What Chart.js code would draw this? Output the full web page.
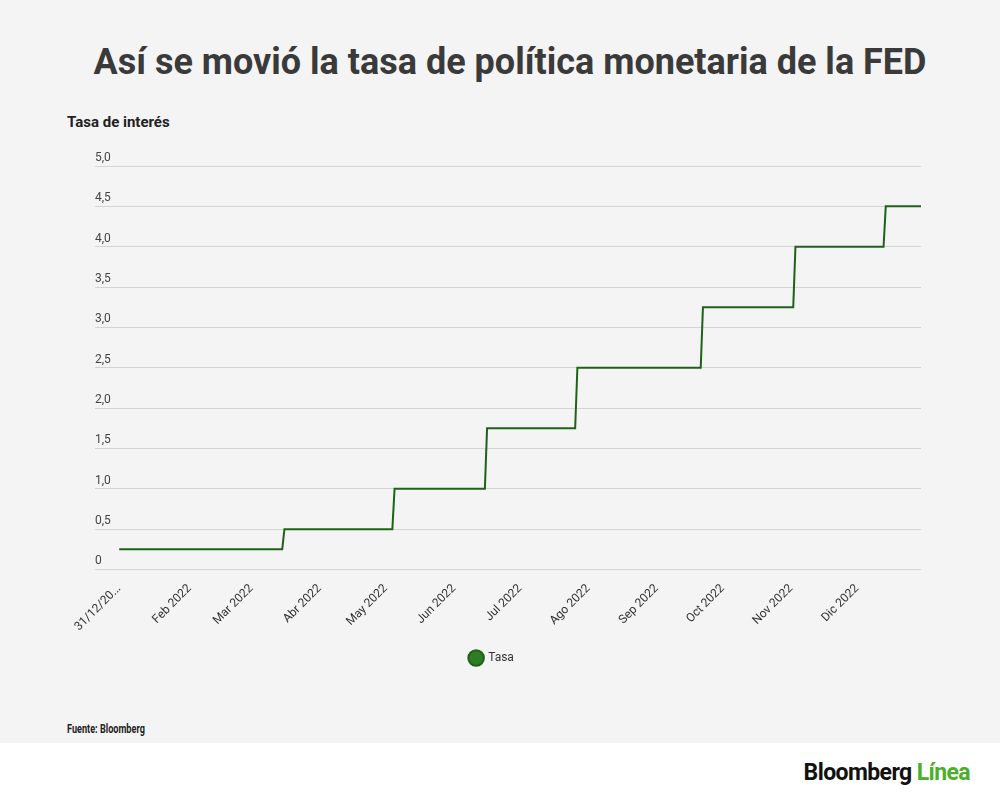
<!DOCTYPE html>
<html>
<head>
<meta charset="utf-8">
<script src="https://cdn.jsdelivr.net/npm/chart.js@4/dist/chart.umd.min.js"></script>
<style>
  html, body { margin: 0; padding: 0; }
  body { width: 1000px; height: 800px; position: relative; background: #ffffff; font-family: 'Roboto', sans-serif; overflow: hidden; }
  .panel { position: absolute; left: 0; top: 0; width: 1000px; height: 743px; background: #f4f4f4; }
  .title { position: absolute; left: 0; width: 1000px; top: 41px; text-align: center; padding-left: 20px; box-sizing: border-box;
           font-size: 36px; font-weight: 700; color: #3a3a3a; white-space: nowrap; }
  .ytitle { position: absolute; left: 67px; top: 113px; font-size: 15px; font-weight: 700; color: #222; }
  .source { position: absolute; left: 67px; top: 722px; font-size: 12px; font-weight: 700; color: #222;
            transform: scaleX(0.76); transform-origin: left top; }
  .logo { position: absolute; right: 30px; top: 759px; font-size: 23px; font-weight: 700; letter-spacing: -0.6px; color: #111; }
  .logo span { color: #4caf2a; }
  .wrap { position: absolute; left: 0; top: 0; width: 1000px; height: 800px; }
</style>
</head>
<body>
<div class="panel"></div>
<div class="title">Así se movió la tasa de política monetaria de la FED</div>
<div class="ytitle">Tasa de interés</div>
<div class="source">Fuente: Bloomberg</div>
<div class="logo">Bloomberg <span>Línea</span></div>
<div class="wrap"><canvas id="chart"></canvas></div>
<script>
// dates where the line bends, and the rate (%) at each one
const dates = ['2021-12-31', '2022-03-15', '2022-03-16', '2022-05-04', '2022-05-05',
  '2022-06-15', '2022-06-16', '2022-07-26', '2022-07-27', '2022-09-21', '2022-09-22',
  '2022-11-02', '2022-11-03', '2022-12-13', '2022-12-14', '2022-12-30'];
const rates = [0.25, 0.25, 0.5, 0.5, 1.0, 1.0, 1.75, 1.75, 2.5, 2.5, 3.25, 3.25, 4.0, 4.0, 4.5, 4.5];

const xTickDates = ['2021-12-31', '2022-02-01', '2022-03-01', '2022-04-01', '2022-05-01', '2022-06-01',
  '2022-07-01', '2022-08-01', '2022-09-01', '2022-10-01', '2022-11-01', '2022-12-01'];
const xTickLabels = ['31/12/20...', 'Feb 2022', 'Mar 2022', 'Abr 2022', 'May 2022', 'Jun 2022',
  'Jul 2022', 'Ago 2022', 'Sep 2022', 'Oct 2022', 'Nov 2022', 'Dic 2022'];
const yTickLabels = ['0', '0,5', '1,0', '1,5', '2,0', '2,5', '3,0', '3,5', '4,0', '4,5', '5,0'];

const t0 = Date.parse('2021-12-31');
const toDay = d => (Date.parse(d) - t0) / 86400000;

const ctx = document.getElementById('chart').getContext('2d');
new Chart(ctx, {
  type: 'line',
  data: {
    datasets: [{
      label: 'Tasa',
      data: dates.map((d, i) => ({ x: toDay(d), y: rates[i] })),
      borderColor: '#1f6117',
      backgroundColor: '#2e7d22',
      borderWidth: 2,
      pointRadius: 0,
      tension: 0
    }]
  },
  options: {
    responsive: true,
    maintainAspectRatio: false,
    animation: false,
    layout: { padding: { top: 166, left: 95, right: 79, bottom: 126 } },
    plugins: {
      legend: {
        position: 'bottom',
        labels: {
          usePointStyle: true,
          pointStyle: 'circle',
          boxHeight: 11,
          padding: 14,
          color: '#333',
          font: { family: 'Roboto', size: 12 }
        }
      },
      tooltip: { enabled: false }
    },
    scales: {
      x: {
        type: 'linear',
        min: -11,
        max: toDay('2022-12-30'),
        afterBuildTicks: scale => {
          scale.ticks = xTickDates.map(d => ({ value: toDay(d) }));
        },
        grid: { display: false },
        border: { display: false },
        ticks: {
          autoSkip: false,
          minRotation: 45,
          maxRotation: 45,
          padding: 4,
          color: '#333',
          font: { family: 'Roboto', size: 12 },
          callback: (v, i) => xTickLabels[i]
        }
      },
      y: {
        min: 0,
        max: 5,
        ticks: {
          stepSize: 0.5,
          mirror: true,
          padding: 0,
          labelOffset: -8,
          color: '#444',
          font: { family: 'Roboto', size: 12 },
          callback: (v, i) => yTickLabels[i]
        },
        grid: { color: '#d4d4d4', drawTicks: false },
        border: { display: false }
      }
    }
  },
  plugins: [{
    id: 'legendShift',
    afterLayout: function(chart) {
      // the legend sits a little left of centre in the original
      chart.legend.left -= 16;
      chart.legend.right -= 16;
    }
  }]
});
</script>
</body>
</html>
